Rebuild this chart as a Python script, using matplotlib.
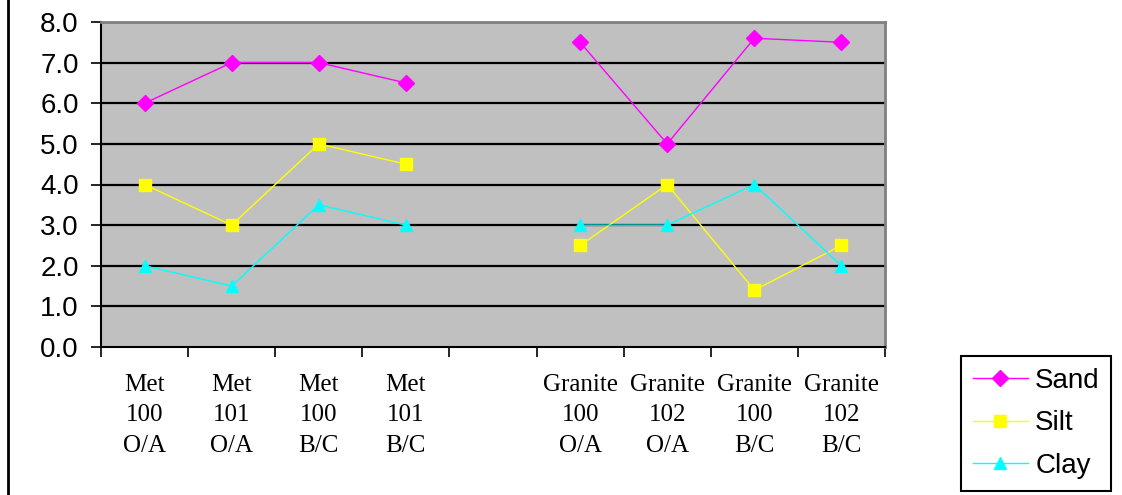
import matplotlib
matplotlib.use("Agg")
import matplotlib.pyplot as plt
import numpy as np

# Sample labels (one blank slot separates the two sites)
categories = ["Met\n100\nO/A", "Met\n101\nO/A", "Met\n100\nB/C", "Met\n101\nB/C", "",
              "Granite\n100\nO/A", "Granite\n102\nO/A", "Granite\n100\nB/C", "Granite\n102\nB/C"]

sand = [6.0, 7.0, 7.0, 6.5, np.nan, 7.5, 5.0, 7.6, 7.5]
silt = [4.0, 3.0, 5.0, 4.5, np.nan, 2.5, 4.0, 1.4, 2.5]
clay = [2.0, 1.5, 3.5, 3.0, np.nan, 3.0, 3.0, 4.0, 2.0]

y_ticks = [0.0, 1.0, 2.0, 3.0, 4.0, 5.0, 6.0, 7.0, 8.0]

fig = plt.figure(figsize=(11.22, 4.95), dpi=100)
ax = fig.add_axes([101 / 1122, 1 - 347 / 495, (885 - 101) / 1122, (347 - 22) / 495])
ax.set_facecolor("#C0C0C0")

x = np.arange(len(categories))
ax.plot(x, sand, color="#FF00FF", lw=1, marker="D", ms=8, label="Sand", zorder=3)
ax.plot(x, silt, color="#FFFF00", lw=1, marker="s", ms=8, label="Silt", zorder=3)
ax.plot(x, clay, color="#00FFFF", lw=1, marker="^", ms=8.5, label="Clay", zorder=3)

ax.set_xlim(-0.5, len(categories) - 0.5)
ax.set_ylim(0, 8)
ax.set_yticks(y_ticks)
ax.set_yticklabels([f"{v:.1f}" for v in y_ticks], fontfamily="Liberation Sans", fontsize=20)
for v in y_ticks[1:]:
    ax.axhline(v, color="black", lw=1.6, zorder=1)

# Category boundaries carry the tick marks; labels sit at the centres
ax.set_xticks(np.arange(len(categories) + 1) - 0.5)
ax.set_xticklabels([])
ax.tick_params(axis="x", length=7, width=1.2, color="black")
ax.tick_params(axis="y", length=7, width=1.2, color="black", pad=9)
for xi, lab in zip(x, categories):
    ax.text(xi, -0.66, lab, ha="center", va="top", fontfamily="Liberation Serif",
            fontsize=18, linespacing=1.5, transform=ax.transData)

for side in ("top", "right"):
    ax.spines[side].set_color("#808080")
    ax.spines[side].set_linewidth(2)
for side in ("left", "bottom"):
    ax.spines[side].set_color("black")
    ax.spines[side].set_linewidth(1.5)

leg = fig.legend(loc="upper left", bbox_to_anchor=(961 / 1122, 1 - 356 / 495),
                 bbox_transform=fig.transFigure,
                 prop={"family": "Liberation Sans", "size": 20},
                 frameon=True, fancybox=False, edgecolor="black", framealpha=1,
                 handlelength=2.0, labelspacing=0.6, borderpad=0.42, handletextpad=0.25,
                 borderaxespad=0, markerscale=1.0)
leg.get_frame().set_linewidth(1.5)

# Outer chart frame on the left edge
fig.add_artist(plt.Line2D([8 / 1122, 8 / 1122], [0, 1], color="black", lw=2,
                          transform=fig.transFigure))

fig.savefig("out.png", dpi=100)
